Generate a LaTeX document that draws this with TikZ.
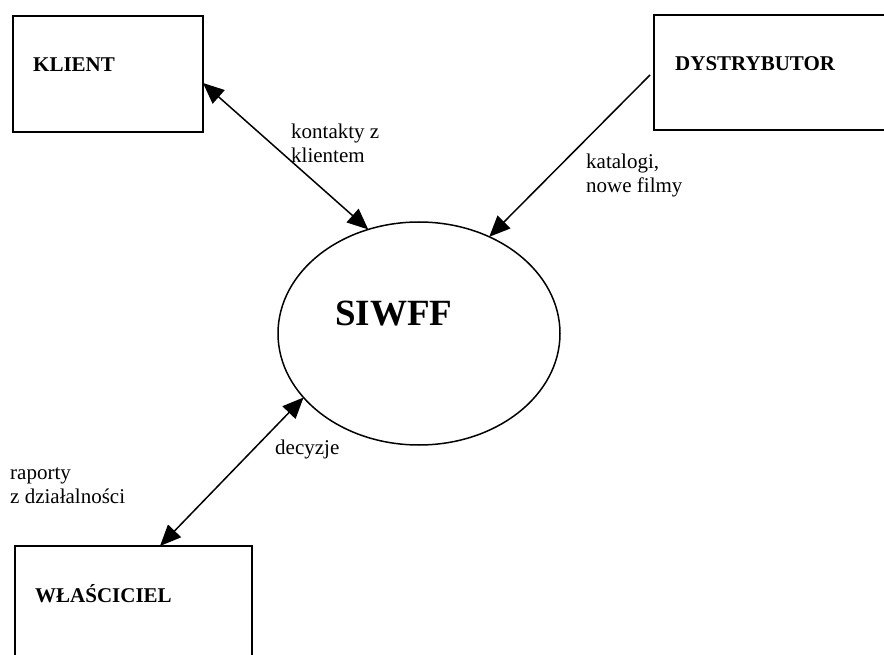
\documentclass[tikz,border=0pt]{standalone}
\usepackage{fontspec}
\setmainfont{Liberation Serif}
\usetikzlibrary{shapes.geometric,arrows.meta}
\tikzset{
  entity/.style={draw, line width=1.8pt, inner sep=0pt, outer sep=0pt, anchor=north west},
  proc/.style={draw, ellipse, line width=1.5pt, inner sep=0pt, outer sep=0pt,
    minimum width=282pt, minimum height=223pt},
  boldlabel/.style={anchor=base west, inner sep=0pt, font=\fontsize{21}{24}\selectfont\bfseries},
  flowlabel/.style={anchor=base west, inner sep=0pt, align=left, font=\fontsize{21}{24}\selectfont},
  flow/.style={line width=1.5pt, -{Triangle[length=21pt,width=18pt]}},
  bothflow/.style={line width=1.5pt, {Triangle[length=21pt,width=18pt]}-{Triangle[length=21pt,width=18pt]}}
}
\begin{document}
\begin{tikzpicture}[x=1pt,y=-1pt]
\useasboundingbox (0,0) rectangle (884,655);
% boxes
\node[entity, minimum width=190pt, minimum height=116pt] (kl) at (13,16) {};
\node[entity, minimum width=260pt, minimum height=115pt] (dys) at (654,15) {};
\node[entity, minimum width=237pt, minimum height=140pt] (wl) at (15,546) {};
\node[proc] (siwff) at (419,333.5) {};
% texts
\node[boldlabel] (tkl) at (33,72) {KLIENT};
\node[boldlabel] (tdys) at (675,71) {DYSTRYBUTOR};
\node[boldlabel] (twl) at (35,602) {WŁAŚCICIEL};
\node[anchor=base west, inner sep=0pt, font=\fontsize{37}{40}\selectfont\bfseries] (tsiwff) at (335,325) {SIWFF};
\node[flowlabel] (lkon) at (291,163) {kontakty z\\klientem};
\node[flowlabel] (lkat) at (586,193) {katalogi,\\nowe filmy};
\node[flowlabel] (ldec) at (275,454) {decyzje};
\node[flowlabel] (lrap) at (10,503) {raporty\\z działalności};
% connectors
\coordinate (dysout) at ([xshift=-4pt,yshift=-2.5pt]dys.west);
\draw[bothflow] ([yshift=-9pt]kl.east) -- (siwff.116.6);
\draw[flow] (dysout) -- (siwff.54.1);
\draw[bothflow] ([xshift=26.5pt]wl.north) -- (siwff.209.3);
\end{tikzpicture}
\end{document}
